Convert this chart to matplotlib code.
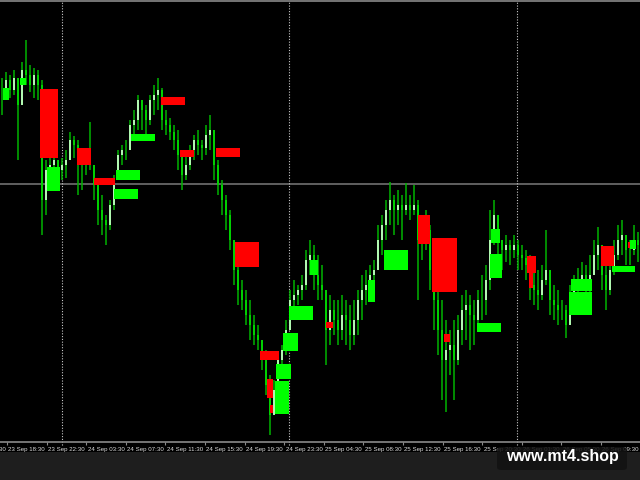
import numpy as np
import matplotlib.pyplot as plt
from matplotlib.patches import Rectangle, FancyBboxPatch

# price in chart points (1 point ~ 1 pixel on the original chart)
bar_high = [422, 428, 425, 430, 410, 438, 460, 435, 432, 430,
            420, 340, 350, 350, 340, 342, 350, 368, 364, 360,
            352, 350, 378, 330, 315, 305, 285, 300, 325, 350,
            355, 360, 380, 390, 405, 400, 395, 405, 415, 422,
            412, 390, 382, 375, 370, 350, 345, 355, 365, 370,
            360, 375, 385, 360, 340, 320, 305, 290, 260, 235,
            220, 210, 200, 185, 175, 160, 150, 125, 120, 145,
            155, 180, 210, 220, 215, 225, 250, 260, 255, 245,
            235, 210, 205, 200, 200, 205, 200, 195, 200, 210,
            225, 230, 235, 240, 275, 285, 300, 318, 305, 310,
            305, 317, 305, 315, 300, 285, 290, 275, 240, 210,
            200, 180, 170, 180, 185, 205, 210, 205, 200, 210,
            225, 235, 290, 300, 285, 260, 265, 260, 265, 260,
            255, 250, 245, 240, 230, 235, 270, 220, 215, 210,
            200, 195, 215, 225, 232, 238, 235, 245, 260, 273,
            250, 240, 245, 260, 275, 280, 265, 260, 275, 268]
bar_low = [385, 400, 402, 405, 340, 405, 415, 408, 402, 400,
           265, 285, 320, 325, 315, 320, 322, 340, 342, 305,
           310, 325, 330, 300, 275, 265, 255, 270, 290, 320,
           335, 340, 350, 360, 370, 370, 365, 375, 385, 390,
           370, 365, 360, 350, 330, 310, 320, 330, 340, 345,
           340, 345, 350, 320, 305, 285, 270, 250, 215, 195,
           190, 175, 160, 155, 150, 130, 105, 65, 90, 115,
           130, 145, 180, 190, 195, 200, 210, 225, 210, 200,
           200, 135, 155, 165, 155, 160, 155, 150, 155, 165,
           180, 195, 200, 200, 230, 245, 260, 275, 265, 275,
           260, 285, 280, 285, 200, 240, 250, 210, 170, 145,
           100, 88, 125, 100, 135, 155, 160, 150, 155, 170,
           180, 185, 210, 255, 225, 230, 238, 235, 242, 230,
           230, 220, 200, 195, 190, 200, 215, 185, 180, 175,
           180, 162, 175, 200, 205, 210, 205, 200, 225, 230,
           210, 190, 205, 225, 240, 245, 235, 235, 245, 238]
bar_close = [405, 420, 410, 422, 395, 430, 425, 415, 425, 415,
             300, 330, 335, 340, 330, 335, 340, 360, 355, 340,
             335, 342, 335, 315, 290, 280, 275, 295, 320, 345,
             350, 350, 375, 380, 400, 390, 380, 400, 405, 410,
             380, 375, 368, 360, 345, 325, 335, 350, 360, 355,
             352, 365, 370, 335, 315, 300, 285, 260, 230, 210,
             200, 185, 175, 165, 160, 140, 115, 85, 110, 140,
             150, 170, 200, 205, 210, 215, 240, 245, 225, 215,
             210, 170, 190, 180, 170, 185, 180, 165, 180, 200,
             210, 215, 225, 230, 260, 275, 290, 300, 290, 295,
             290, 295, 290, 295, 260, 265, 270, 230, 200, 170,
             140, 150, 155, 140, 170, 190, 195, 185, 180, 200,
             200, 220, 260, 285, 260, 250, 255, 250, 255, 245,
             242, 235, 215, 210, 205, 220, 230, 200, 195, 190,
             190, 175, 205, 215, 220, 225, 220, 225, 245, 255,
             225, 210, 230, 245, 260, 265, 250, 250, 260, 255]

# zones: (first bar, last bar, upper price, lower price)
supply_zones = [(9.5, 14, 411, 342), (18.75, 22.25, 352, 335), (23, 28.25, 322, 315),
                (39.75, 45.75, 403, 395), (44.5, 48, 350, 343), (53.5, 59.5, 352, 343),
                (58.25, 64.25, 258, 233), (64.5, 69.25, 149, 140), (66.25, 67.75, 121, 102),
                (67, 67.75, 95, 87), (81, 82.75, 178, 172), (104, 107, 285, 256),
                (107.5, 113.75, 262, 208), (110.5, 112, 166, 158), (131.25, 133.5, 244, 227),
                (131.75, 132.75, 227, 212), (149.75, 153, 254, 234), (156.5, 157.5, 258, 252)]
demand_zones = [(0.25, 1.75, 412, 400), (4.5, 6, 422, 415), (11.25, 14.5, 333, 309),
                (28.5, 34.5, 330, 320), (28, 34, 311, 301), (32.25, 38.25, 366, 359),
                (68.25, 71.75, 119, 86), (68.5, 72.25, 136, 121), (70.25, 74, 167, 149),
                (71.75, 77.75, 194, 180), (77, 79, 240, 225), (91.5, 93.25, 220, 198),
                (95.5, 101.5, 250, 230), (118.75, 124.75, 177, 168), (122, 125, 246, 222),
                (122.25, 124.5, 271, 257), (141.75, 147.5, 208, 185), (142.25, 147.5, 221, 209),
                (152.5, 158.25, 234, 228), (157, 158.5, 260, 251)]

level_line = 316.5
day_breaks = [14.875, 71.75, 128.625]
time_labels = ['23 Sep 14:30', '23 Sep 18:30', '23 Sep 22:30', '24 Sep 03:30', '24 Sep 07:30',
               '24 Sep 11:30', '24 Sep 15:30', '24 Sep 19:30', '24 Sep 23:30', '25 Sep 04:30',
               '25 Sep 08:30', '25 Sep 12:30', '25 Sep 16:30', '25 Sep 20:30', '26 Sep 01:30',
               '26 Sep 05:30', '26 Sep 09:30']

fig = plt.figure(figsize=(6.4, 4.8), dpi=100, facecolor='#1e1e1e')
ax = fig.add_axes([0, 28 / 480, 1, 452 / 480])
ax.set_facecolor('black')
ax.set_xlim(-0.5, 159.5)
ax.set_ylim(48, 500)
for s in ax.spines.values():
    s.set_visible(False)
ax.set_xticks([])
ax.set_yticks([])

x = np.arange(len(bar_close))
opens = np.array([bar_close[0]] + bar_close[:-1])
close = np.array(bar_close)
up = close >= opens

ax.vlines(x, bar_low, bar_high, color='#00b400', lw=1.1, zorder=2)
ax.bar(x[up], (close - opens)[up], bottom=opens[up], width=0.5,
       color='#b0f8b0', lw=0, zorder=3)
ax.bar(x[~up], (close - opens)[~up], bottom=opens[~up], width=0.5,
       color='#00d000', lw=0, zorder=3)

for b0, b1, hi, lo in supply_zones:
    ax.add_patch(Rectangle((b0, lo), b1 - b0, hi - lo, color='#ff0000', lw=0, zorder=4))
for b0, b1, hi, lo in demand_zones:
    ax.add_patch(Rectangle((b0, lo), b1 - b0, hi - lo, color='#00ff00', lw=0, zorder=4))

# grid / separators
ax.axhline(level_line, color='#7a7a7a', lw=1.1, zorder=1)
ax.axhline(499, color='#8a8a8a', lw=1.2, zorder=5)
ax.axhline(58, color='#8a8a8a', lw=1.2, zorder=5)
for d in day_breaks:
    ax.vlines(d, 55, 499, color='#c8c8c8', lw=0.8, linestyles=(0, (1, 1.5)), zorder=1)

# time axis
tick_pos = -8.65 + 9.9 * np.arange(len(time_labels))
ax.vlines(tick_pos, 55, 58, color='#8a8a8a', lw=0.8, zorder=5)
for tp, lab in zip(tick_pos, time_labels):
    ax.text(tp + 0.35, 51, lab, color='#dcdcdc', fontsize=4.4,
            family='Liberation Sans', ha='left', va='center', zorder=5)

# watermark
box = FancyBboxPatch((497 / 640, 10 / 480), 130 / 640, 23 / 480,
                     boxstyle='round,pad=0,rounding_size=0.006',
                     transform=fig.transFigure, facecolor='#121212', alpha=0.85,
                     edgecolor='none', zorder=10)
fig.patches.append(box)
fig.text(562 / 640, 23 / 480, 'www.mt4.shop', color='white', fontsize=11.5,
         fontweight='bold', family='Liberation Sans', ha='center', va='center', zorder=11)

fig.savefig('out.png', dpi=100, facecolor=fig.get_facecolor())
